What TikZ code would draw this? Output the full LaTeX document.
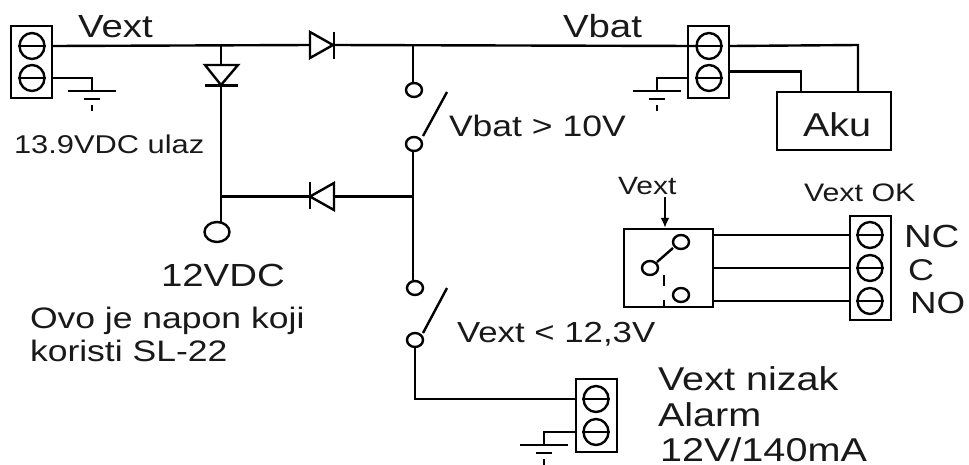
\documentclass[tikz,border=0pt]{standalone}
\usepackage{fontspec}
\setmainfont[FakeStretch=1.2]{Liberation Sans}
\usetikzlibrary{shapes.geometric,arrows.meta}
\newcommand{\fs}[1]{\fontsize{#1}{#1}\selectfont}
\tikzset{
  wire/.style={line width=2.4pt,line cap=butt,line join=miter},
  lbl/.style={anchor=base west,inner sep=0pt,outer sep=0pt,text=black!90},
  screw/.style={ellipse,draw,line width=2.4pt,inner sep=0pt,minimum width=25pt,minimum height=26pt},
  contact/.style={ellipse,draw,line width=2.4pt,inner sep=0pt,minimum width=16pt,minimum height=14pt},
  jack/.style={ellipse,draw,line width=2.4pt,inner sep=0pt,minimum width=25pt,minimum height=20pt},
  blockbox/.style={rectangle,draw,line width=2.4pt,inner sep=0pt,minimum width=41pt},
  box/.style={rectangle,draw,line width=2.4pt,inner sep=0pt},
  tri/.style={line width=2.4pt,line join=miter},
}
\begin{document}
\begin{tikzpicture}[x=1pt,y=-1pt]
\useasboundingbox (0,0) rectangle (969,464);
% terminal blocks
\node[blockbox,minimum height=72pt] (t1) at (31.5,62) {};
\node[screw] (s1a) at (32,46) {}; \node[screw] (s1b) at (32,78) {};
\node[blockbox,minimum height=72pt] (t2) at (708.5,62) {};
\node[screw] (s2a) at (709,46) {}; \node[screw] (s2b) at (709,78) {};
\node[blockbox,minimum height=73pt] (t3) at (596.5,415.5) {};
\node[screw] (s3a) at (596,399) {}; \node[screw] (s3b) at (596,432) {};
\node[blockbox,minimum height=104pt] (t4) at (870.5,268) {};
\node[screw] (s4a) at (870,235) {}; \node[screw] (s4b) at (870,268) {}; \node[screw] (s4c) at (870,301) {};
\foreach \s in {s1a,s1b,s2a,s2b,s3a,s3b,s4a,s4b,s4c} \draw[wire,line width=1.8pt] (\s.west) -- (\s.east);
% boxes
\node[box,minimum width=114pt,minimum height=58pt] (aku) at (834,121) {};
\node[box,minimum width=89pt,minimum height=78pt] (rel) at (668.5,268) {};
% contacts
\node[contact] (c1) at (414,90) {};
\node[contact] (c2) at (414,144) {};
\node[contact] (c3) at (415,288) {};
\node[contact] (c4) at (415,340) {};
\node[jack] (out) at (217,232) {};
\node[contact] (r1) at (681,242) {};
\node[contact] (r2) at (650,268) {};
\node[contact] (r3) at (681,295) {};
% coordinates
\coordinate (j1) at (221,45);
\coordinate (j2) at (413,45);
\coordinate (j3) at (221,196.5);
\coordinate (j4) at (413,196.5);
\coordinate (d1a) at (310,45); \coordinate (d1k) at (334,45);
\coordinate (d2a) at (221,65); \coordinate (d2k) at (221,85);
\coordinate (d3a) at (334,196.5); \coordinate (d3k) at (310,196.5);
% diodes
\draw[tri] (310,32) -- (310,58) -- (333,45) -- cycle;
\draw[tri] (334,32) -- (334,59);
\draw[tri] (205,65) -- (238,65) -- (221,85) -- cycle;
\draw[tri] (205,85.5) -- (238,85.5);
\draw[tri] (334,183) -- (334,210) -- (310,196.5) -- cycle;
\draw[tri] (310,182) -- (310,209);
% wires
\draw[wire] (t1.east |- s1a) -- (d1a);
\draw[wire] (d1k) -- (s2a.west);
\draw[wire] (j1) -- (d2a);
\draw[wire] (d2k) -- (221,222);
\draw[wire] (j3) -- (d3k);
\draw[wire] (d3a) -- (j4);
\draw[wire] (j2) -- (c1.north -| j2);
\draw[wire] (c2.south -| j2) -- (c3.north -| j2);
\draw[wire] (c4.south) -- (415,399) -- (t3.west |- s3a);
\draw[wire] (423,136) -- (447,92);
\draw[wire] (423,333) -- (447,288);
\draw[wire] (t2.east |- s2a) -- (858,45) -- (858,92);
\draw[wire] (t2.east |- 0,71.5) -- (801,71.5) -- (801,92);
\foreach \y/\s in {235/s4a,268/s4b,301/s4c} \draw[wire] (rel.east |- \s) -- (t4.west |- \s);
\draw[wire] (657,262) -- (673,248);
\draw[wire] (664,275) -- (664,286);
\draw[wire] (664,300) -- (664,307);
\coordinate (vx) at (665,197);
\draw[line width=2pt,-{Latex[length=10pt,width=9pt]}] (vx) -- (rel.north -| vx);
% grounds
\foreach \gx/\gy/\s/\o in {92/91/s1b/t1.east,657/91/s2b/t2.west,544/445/s3b/t3.west}{
  \coordinate (g) at (\gx,\gy);
  \draw[wire] (\o |- \s) -- (g |- \s) -- (g);
  \draw[wire] (\gx-24,\gy) -- (\gx+24,\gy);
  \draw[wire] (\gx-8,\gy+8) -- (\gx+8,\gy+8);
  \draw[wire] (\gx,\gy+14) -- (\gx,\gy+20);
}
% labels
\node[lbl,font=\fs{32}] (lvext) at (78,37.5) {Vext};
\node[lbl,font=\fs{32}] (lvbat) at (563,37) {Vbat};
\node[lbl,font=\fs{25.7}] (lin) at (14,153) {13.9VDC ulaz};
\node[lbl,font=\fs{32}] (l12) at (161,286) {12VDC};
\node[lbl,font=\fs{29.6}] (lo1) at (30,328) {Ovo je napon koji};
\node[lbl,font=\fs{29.6}] (lo2) at (30,361) {koristi SL-22};
\node[lbl,font=\fs{29.6}] (lsw1) at (449,136) {Vbat > 10V};
\node[lbl,font=\fs{29}] (lsw2) at (457,342) {Vext < 12,3V};
\node[lbl,font=\fs{33}] (laku) at (803,136) {Aku};
\node[lbl,font=\fs{25}] (lrel) at (618,194) {Vext};
\node[lbl,font=\fs{25.3}] (lok) at (804,201) {Vext OK};
\node[lbl,font=\fs{32}] (lnc) at (904,247) {NC};
\node[lbl,font=\fs{30}] (lc) at (908,280) {C};
\node[lbl,font=\fs{30.6}] (lno) at (910,313) {NO};
\node[lbl,font=\fs{33}] (la1) at (658,390) {Vext nizak};
\node[lbl,font=\fs{33}] (la2) at (658,426) {Alarm};
\node[lbl,font=\fs{33}] (la3) at (660,461) {12V/140mA};
\end{tikzpicture}
\end{document}
